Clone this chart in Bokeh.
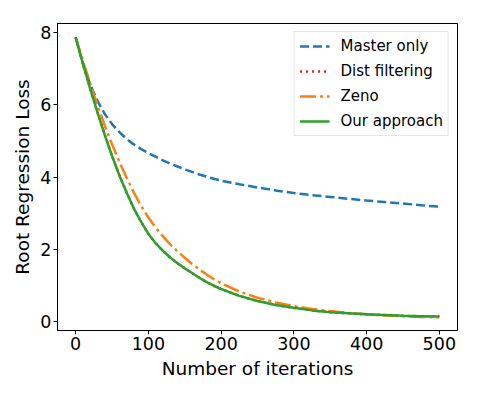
from bokeh.plotting import figure
from bokeh.models import Range1d, FixedTicker, Legend, LegendItem
from bokeh.embed import file_html
from bokeh.resources import INLINE

iterations = [0, 10, 20, 30, 40, 50, 60, 70, 80, 90, 100, 110, 120, 130, 140,
              150, 160, 170, 180, 190, 200, 225, 250, 275, 300, 325, 350, 375,
              400, 425, 450, 475, 500]

master_only = [7.85, 7.12, 6.55, 6.10, 5.74, 5.46, 5.24, 5.05, 4.90, 4.77, 4.66,
               4.56, 4.46, 4.37, 4.29, 4.21, 4.14, 4.07, 4.01, 3.95, 3.90, 3.80,
               3.71, 3.63, 3.56, 3.50, 3.45, 3.40, 3.35, 3.31, 3.27, 3.22, 3.18]

dist_filtering = [7.85, 7.12, 6.43, 5.78, 5.16, 4.58, 4.05, 3.57, 3.13, 2.76, 2.43,
                  2.17, 1.96, 1.78, 1.62, 1.48, 1.35, 1.22, 1.10, 1.00, 0.91, 0.72,
                  0.58, 0.47, 0.39, 0.32, 0.27, 0.24, 0.21, 0.19, 0.17, 0.16, 0.15]

zeno = [7.85, 7.20, 6.58, 5.98, 5.42, 4.90, 4.42, 3.98, 3.57, 3.20, 2.88,
        2.60, 2.36, 2.14, 1.95, 1.77, 1.60, 1.45, 1.31, 1.18, 1.07, 0.84,
        0.67, 0.54, 0.44, 0.36, 0.30, 0.25, 0.21, 0.18, 0.16, 0.14, 0.13]

our_approach = [7.85, 7.12, 6.43, 5.78, 5.16, 4.58, 4.05, 3.57, 3.13, 2.76, 2.43,
                2.17, 1.96, 1.78, 1.62, 1.48, 1.35, 1.22, 1.10, 1.00, 0.91, 0.72,
                0.58, 0.47, 0.39, 0.32, 0.27, 0.24, 0.21, 0.19, 0.17, 0.16, 0.15]

x_ticks = [0, 100, 200, 300, 400, 500]
y_ticks = [0, 2, 4, 6, 8]

FONT = "DejaVu Sans"

p = figure(width=470, height=391, output_backend="svg", toolbar_location=None,
           min_border_left=57, min_border_right=13, min_border_top=23,
           min_border_bottom=61,
           x_range=Range1d(-25, 525), y_range=Range1d(-0.235, 8.235))

p.background_fill_color = "white"
p.border_fill_color = "white"
p.outline_line_color = "black"
p.outline_line_width = 1
p.grid.visible = False

r_master = p.line(iterations, master_only, line_color="#1f77b4", line_width=2.5,
                  line_dash="9 4")
r_dist = p.line(iterations, dist_filtering, line_color="#d62728", line_width=2.5,
                line_dash="2 4")
r_zeno = p.line(iterations, zeno, line_color="#ff7f0e", line_width=2.5,
                line_dash="16 4 3 4")
r_ours = p.line(iterations, our_approach, line_color="#2ca02c", line_width=2.5)

for ax in (p.xaxis[0], p.yaxis[0]):
    ax.axis_line_color = "black"
    ax.axis_line_width = 1
    ax.major_tick_line_color = "black"
    ax.major_tick_line_width = 1
    ax.major_tick_in = 0
    ax.major_tick_out = 4
    ax.minor_tick_line_color = None
    ax.major_label_text_font = FONT
    ax.major_label_text_font_size = "17.5px"
    ax.major_label_text_color = "black"
    ax.axis_label_text_font = FONT
    ax.axis_label_text_font_size = "18.5px"
    ax.axis_label_text_font_style = "normal"
    ax.axis_label_text_color = "black"
    ax.major_label_standoff = 2

p.xaxis[0].ticker = FixedTicker(ticks=x_ticks)
p.yaxis[0].ticker = FixedTicker(ticks=y_ticks)
p.xaxis[0].axis_label = "Number of iterations"
p.yaxis[0].axis_label = "Root Regression Loss"
p.xaxis[0].axis_label_standoff = 5
p.yaxis[0].axis_label_standoff = 4

legend = Legend(items=[
    LegendItem(label="Master only", renderers=[r_master]),
    LegendItem(label="Dist filtering", renderers=[r_dist]),
    LegendItem(label="Zeno", renderers=[r_zeno]),
    LegendItem(label="Our approach", renderers=[r_ours]),
], location="top_right")
legend.margin = 8
legend.padding = 5
legend.spacing = 7
legend.glyph_width = 30
legend.glyph_height = 16
legend.label_height = 16
legend.label_standoff = 11
legend.label_text_font = FONT
legend.label_text_font_size = "15px"
legend.label_text_color = "black"
legend.border_line_color = "#cccccc"
legend.border_line_width = 1
legend.background_fill_alpha = 0.8
p.add_layout(legend)

open("out.html", "w").write(file_html(p, INLINE))
